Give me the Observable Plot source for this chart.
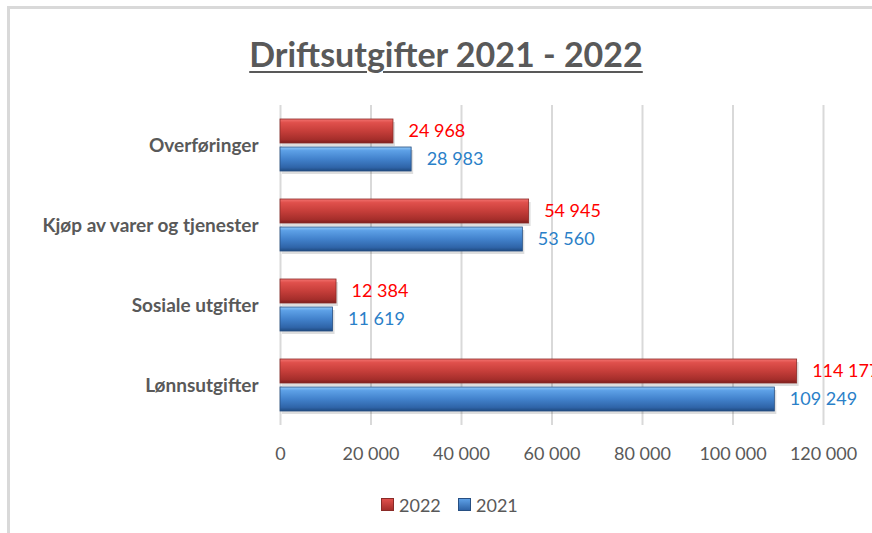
<!DOCTYPE html>
<html>
<head>
<meta charset="utf-8">
<script src="https://cdn.jsdelivr.net/npm/d3@7"></script>
<script src="https://cdn.jsdelivr.net/npm/@observablehq/plot@0.6"></script>
<style>
  html, body { margin: 0; padding: 0; background: #fff; overflow: hidden; }
  #wrap { position: relative; width: 872px; height: 533px; overflow: hidden; font-family: Lato, "Open Sans", sans-serif; }
  #wrap svg { position: absolute; left: 0; top: 0; }
  .border-top { position: absolute; left: 7px; top: 6px; width: 870px; height: 3px; background: #d9d9d9; }
  .border-left { position: absolute; left: 7px; top: 6px; width: 3px; height: 530px; background: #d9d9d9; }
  #title { position: absolute; left: 0; top: 37px; width: 892px; text-align: center; font-size: 34px; line-height: 34px; font-weight: bold; color: #595959; text-decoration: underline; text-decoration-thickness: 2px; text-underline-offset: 4px; }
  .lg-box { position: absolute; width: 13px; height: 13px; top: 498px; box-sizing: border-box; }
  .lg-text { position: absolute; top: 496px; font-size: 18px; line-height: 18px; color: #595959; }
  g[aria-label^="fy-axis"] text { font-weight: bold; font-size: 19px; fill: #595959; }
  g[aria-label^="x-axis"] text { font-size: 18px; fill: #595959; }
</style>
</head>
<body>
<div id="wrap">
  <div id="title">Driftsutgifter 2021 - 2022</div>
</div>
<script>
const categories = ["Overføringer", "Kjøp av varer og tjenester", "Sosiale utgifter", "Lønnsutgifter"];
const years = ["2022", "2021"];
const values2022 = [24968, 54945, 12384, 114177];
const values2021 = [28983, 53560, 11619, 109249];
const xTicks = [0, 20000, 40000, 60000, 80000, 100000, 120000];

const data = categories.flatMap((c, i) => [
  {category: c, year: "2022", value: values2022[i]},
  {category: c, year: "2021", value: values2021[i]}
]);
const fmt = v => d3.format(",")(v).replace(/,/g, " ");

const chart = Plot.plot({
  width: 872,
  height: 533,
  marginLeft: 280,
  marginRight: 49,
  marginTop: 105,
  marginBottom: 108,
  style: {fontFamily: "Lato, 'Open Sans', sans-serif", background: "transparent", overflow: "hidden", color: "#595959"},
  facet: {data, y: "category"},
  fy: {domain: categories, padding: 0, label: null, axis: "left", tickSize: 0, tickPadding: 22},
  y: {domain: years, axis: null, paddingInner: 4 / 28, paddingOuter: 0.5},
  x: {domain: [0, 120000], ticks: xTicks, tickFormat: fmt, tickSize: 0, tickPadding: 22, label: null},
  marks: [
    Plot.ruleX(xTicks, {stroke: "#d9d9d9", strokeWidth: 2}),
    Plot.barX(data, {x: "value", y: "year", dx: 2, dy: 3, fill: "#000", fillOpacity: 0.13}),
    Plot.barX(data, {filter: d => d.year === "2022", x: "value", y: "year", fill: "url(#gradRed)", stroke: "#8a2b28", strokeWidth: 0.8}),
    Plot.barX(data, {filter: d => d.year === "2021", x: "value", y: "year", fill: "url(#gradBlue)", stroke: "#274f82", strokeWidth: 0.8}),
    Plot.text(data, {filter: d => d.year === "2022", x: "value", y: "year", text: d => fmt(d.value), dx: 15, textAnchor: "start", fill: "#ff0000", fontSize: 18}),
    Plot.text(data, {filter: d => d.year === "2021", x: "value", y: "year", text: d => fmt(d.value), dx: 15, textAnchor: "start", fill: "#2a80c8", fontSize: 18})
  ]
});

function addGrad(defs, id, stops) {
  const g = defs.append("linearGradient").attr("id", id).attr("x1", 0).attr("y1", 0).attr("x2", 0).attr("y2", 1);
  stops.forEach(([o, c]) => g.append("stop").attr("offset", o).attr("stop-color", c));
}
const defs = d3.select(chart).insert("defs", ":first-child");
addGrad(defs, "gradRed", [["0%", "#f27370"], ["15%", "#e0504c"], ["50%", "#c63e3a"], ["85%", "#a52e2b"], ["100%", "#7d1f1d"]]);
addGrad(defs, "gradBlue", [["0%", "#92c8f6"], ["15%", "#5da0e6"], ["50%", "#4282cc"], ["85%", "#2f64a8"], ["100%", "#1f4a80"]]);

const wrap = document.getElementById("wrap");
wrap.insertBefore(chart, wrap.firstChild);

const bt = document.createElement("div"); bt.className = "border-top"; wrap.appendChild(bt);
const bl = document.createElement("div"); bl.className = "border-left"; wrap.appendChild(bl);

const legend = [
  {label: years[0], x: 381, bg: "linear-gradient(#e0504c, #a52e2b)", border: "#8a2b28"},
  {label: years[1], x: 458, bg: "linear-gradient(#5da0e6, #2f64a8)", border: "#274f82"}
];
legend.forEach(l => {
  const b = document.createElement("div");
  b.className = "lg-box"; b.style.left = l.x + "px"; b.style.background = l.bg; b.style.border = "1px solid " + l.border;
  wrap.appendChild(b);
  const t = document.createElement("div");
  t.className = "lg-text"; t.style.left = (l.x + 18) + "px"; t.textContent = l.label;
  wrap.appendChild(t);
});
</script>
</body>
</html>
